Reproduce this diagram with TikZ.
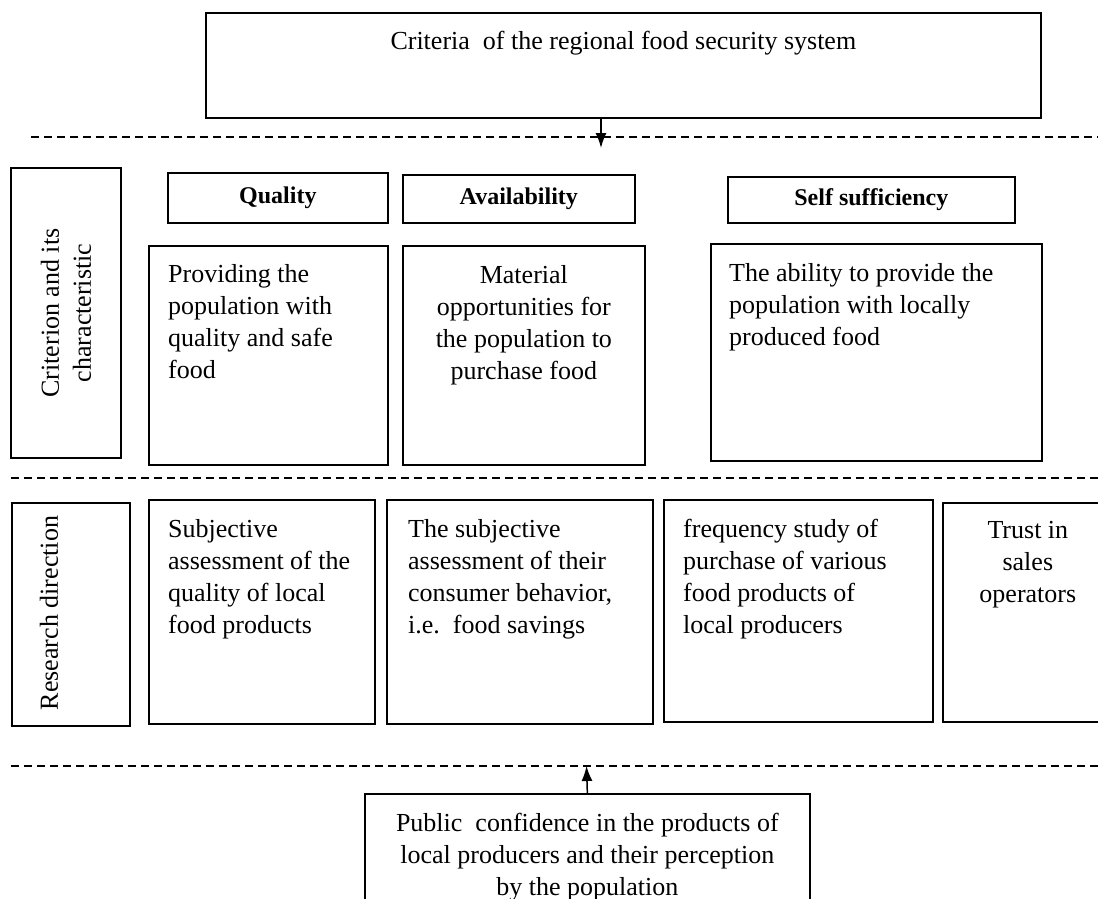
\documentclass[tikz,border=0pt]{standalone}
\usepackage{fontspec}
\setmainfont{Liberation Serif}
\usepackage{tikz}
\usetikzlibrary{arrows.meta,positioning}

\begin{document}
\begin{tikzpicture}[
  x=1pt, y=-1pt,
  panel/.style={draw, line width=1.7pt, anchor=north west, inner sep=0pt},
  headbox/.style={panel, font=\fontsize{24}{30}\selectfont\bfseries},
  sidebox/.style={draw, line width=1.7pt, rotate=90, align=center, font=\fontsize{26}{32}\selectfont},
  txt/.style={inner sep=0pt, font=\fontsize{26}{32}\selectfont},
  sepline/.style={line width=1.3pt, dash pattern=on 8pt off 5pt},
  arr/.style={-{Latex[length=15pt, width=11pt]}, line width=1.5pt}
]
\useasboundingbox (0,0) rectangle (1098,899);
\clip (0,0) rectangle (1098,899);

\node[panel, minimum width=835pt, minimum height=105pt] (top) at (205,12) {};
\node[txt, below=19pt of top.north] (toptxt) {Criteria\ \ of the regional food security system};

\node[sidebox, minimum width=290pt, minimum height=110pt] (crit) at (66,313) {Criterion and its\\characteristic};

\node[headbox, minimum width=220pt, minimum height=50pt] (quality) at (167,172) {Quality};
\node[headbox, minimum width=232pt, minimum height=48pt] (avail) at (402,174) {Availability};
\node[headbox, minimum width=287pt, minimum height=46pt] (self) at (727,176) {Self sufficiency};

\node[panel, minimum width=239pt, minimum height=219pt] (qualdesc) at (148,245) {};
\node[txt, align=left, below right=19pt and 20pt of qualdesc.north west] (qualtxt) {Providing the\\population with\\quality and safe\\food};
\node[panel, minimum width=242pt, minimum height=219pt] (availdesc) at (402,245) {};
\node[txt, align=center, below=20pt of availdesc.north] (availtxt) {Material\\opportunities for\\the population to\\purchase food};
\node[panel, minimum width=331pt, minimum height=217pt] (selfdesc) at (710,243) {};
\node[txt, align=left, below right=20pt and 19pt of selfdesc.north west] (selftxt) {The ability to provide the\\population with locally\\produced food};

\node[panel, minimum width=118pt, minimum height=223pt] (research) at (11,502) {};
\node[txt, rotate=90] (restxt) at (49,613) {Research direction};

\node[panel, minimum width=226pt, minimum height=224pt] (assess) at (148,499) {};
\node[txt, align=left, below right=20pt and 20pt of assess.north west] (assesstxt) {Subjective\\assessment of the\\quality of local\\food products};
\node[panel, minimum width=266pt, minimum height=224pt] (behav) at (386,499) {};
\node[txt, align=left, below right=20pt and 22pt of behav.north west] (behavtxt) {The subjective\\assessment of their\\consumer behavior,\\i.e.\ \ food savings};
\node[panel, minimum width=269pt, minimum height=222pt] (freq) at (663,499) {};
\node[txt, align=left, below right=20pt and 20pt of freq.north west] (freqtxt) {frequency study of\\purchase of various\\food products of\\local producers};
\node[panel, minimum width=170pt, minimum height=219pt] (trust) at (942,502) {};
\node[txt, align=center, below=19pt of trust.north] (trusttxt) {Trust in\\sales\\operators};

\node[panel, minimum width=445pt, minimum height=140pt] (pub) at (364,793) {};
\node[txt, align=center, below=20pt of pub.north] (pubtxt) {Public\ \ confidence in the products of\\local producers and their perception\\by the population};

\draw[sepline] (31,137) -- (1098,137);
\draw[sepline] (11,478) -- (1098,478);
\draw[sepline] (11,766) -- (1098,766);

\coordinate (downtip) at (601,148);
\coordinate (uptip) at (586.5,766);
\draw[arr] (downtip |- top.south) -- (downtip);
\draw[arr] (pub.north) -- (uptip);
\end{tikzpicture}
\end{document}
